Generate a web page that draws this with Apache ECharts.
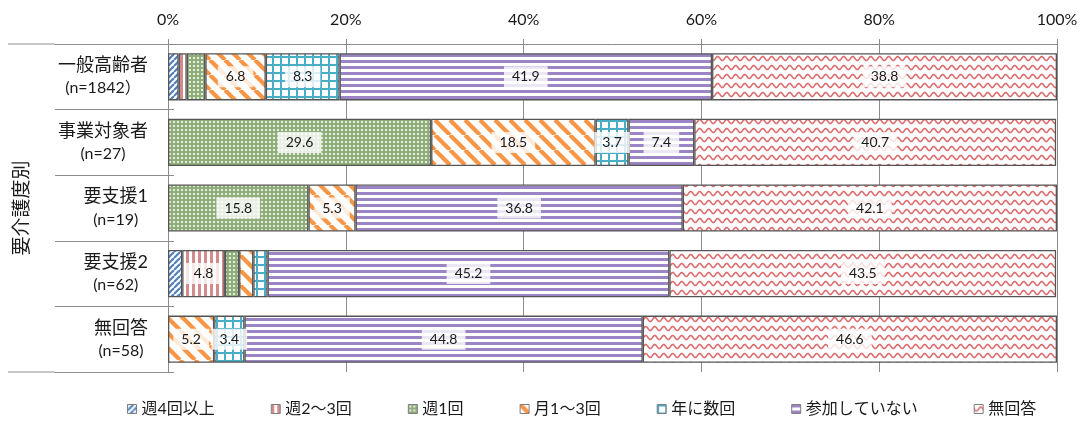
<!DOCTYPE html>
<html>
<head>
<meta charset="utf-8">
<script src="https://cdn.jsdelivr.net/npm/echarts@6/dist/echarts.min.js"></script>
<style>
  html, body { margin: 0; padding: 0; background: #fff; }
  #chart { width: 1083px; height: 421px; }
</style>
</head>
<body>
<div id="chart"></div>
<script>
// 要介護度別の参加頻度（%）
const categories = ['一般高齢者', '事業対象者', '要支援1', '要支援2', '無回答'];
const sampleSizes = ['(n=1842）', '(n=27)', '(n=19)', '(n=62)', '(n=58)'];
const seriesNames = ['週4回以上', '週2～3回', '週1回', '月1～3回', '年に数回', '参加していない', '無回答'];

const weekly4Plus   = [1.2, 0, 0, 1.6, 0];
const weekly2to3    = [0.9, 0, 0, 4.8, 0];
const weekly1       = [2.1, 29.6, 15.8, 1.6, 0];
const monthly1to3   = [6.8, 18.5, 5.3, 1.6, 5.2];
const fewPerYear    = [8.3, 3.7, 0, 1.6, 3.4];
const notJoining    = [41.9, 7.4, 36.8, 45.2, 44.8];
const noAnswer      = [38.8, 40.7, 42.1, 43.5, 46.6];

const valueTicks = { min: 0, max: 100, interval: 20 };
const labelThreshold = 3;

const FONT = 'Lato, "Noto Sans CJK JP", sans-serif';
const TEXT = '#1a1a1a';
const GRAY = '#8c8c8c';

// hatch fills, drawn once on small tiles and repeated
function tile(w, h, draw) {
  const c = document.createElement('canvas');
  c.width = w; c.height = h;
  const g = c.getContext('2d');
  g.fillStyle = '#ffffff';
  g.fillRect(0, 0, w, h);
  draw(g, w, h);
  return { image: c, repeat: 'repeat' };
}

const fills = [
  // upward diagonal, blue
  tile(6, 6, (g, w, h) => {
    g.strokeStyle = '#4f81bd'; g.lineWidth = 2.2;
    for (let k = -w; k <= w; k += w) { g.beginPath(); g.moveTo(k, h); g.lineTo(k + w, 0); g.stroke(); }
  }),
  // vertical stripes, red
  tile(6, 1, (g) => { g.fillStyle = '#d48b8b'; g.fillRect(0, 0, 3, 1); }),
  // dotted green
  tile(4, 4, (g) => {
    g.fillStyle = '#8fae7b'; g.fillRect(0, 0, 4, 4);
    g.fillStyle = '#e4eedb'; g.fillRect(1, 1, 2, 2);
  }),
  // wide downward diagonal, orange
  tile(15, 15, (g, w, h) => {
    g.strokeStyle = '#f79646'; g.lineWidth = 4.2;
    for (let k = -w; k <= w; k += w) { g.beginPath(); g.moveTo(k, 0); g.lineTo(k + w, h); g.stroke(); }
  }),
  // grid, cyan
  tile(8, 8, (g) => {
    g.fillStyle = '#4bacc6'; g.fillRect(0, 0, 8, 2); g.fillRect(0, 0, 2, 8);
  }),
  // horizontal stripes, purple
  tile(1, 6, (g) => { g.fillStyle = '#9b85c4'; g.fillRect(0, 0, 1, 3); }),
  // waves, red
  tile(9, 9, (g, w, h) => {
    g.strokeStyle = '#dc6d6f'; g.lineWidth = 1.6;
    g.beginPath();
    for (let x = -1; x <= w + 1; x += 0.5) {
      const y = h / 2 + 2 * Math.sin(2 * Math.PI * x / w);
      if (x === -1) g.moveTo(x, y); else g.lineTo(x, y);
    }
    g.stroke();
  })
];

const seriesValues = [weekly4Plus, weekly2to3, weekly1, monthly1to3, fewPerYear, notJoining, noAnswer];

const series = seriesNames.map((name, i) => ({
  name: name,
  type: 'bar',
  stack: 'total',
  barWidth: '72%',
  yAxisIndex: 0,
  itemStyle: { color: fills[i], borderColor: '#555555', borderWidth: 1.3 },
  label: {
    show: true,
    position: 'inside',
    fontFamily: FONT,
    fontSize: 14,
    color: TEXT,
    backgroundColor: 'rgba(255,255,255,0.8)',
    padding: [4, 8, 3, 8],
    formatter: p => Number(p.value).toFixed(1)
  },
  emphasis: { disabled: true },
  data: seriesValues[i].map(v => v === 0 ? '-' : (v >= labelThreshold ? v : { value: v, label: { show: false } }))
}));

const chart = echarts.init(document.getElementById('chart'), null, { renderer: 'canvas' });

chart.setOption({
  animation: false,
  backgroundColor: '#ffffff',
  textStyle: { fontFamily: FONT, color: TEXT },
  grid: { left: 168, right: 26, top: 44, bottom: 49 },
  legend: {
    data: seriesNames,
    left: 127,
    top: 401,
    padding: 0,
    icon: 'rect',
    itemWidth: 9,
    itemHeight: 9,
    itemGap: 56,
    selectedMode: false,
    itemStyle: { borderColor: '#7f7f7f', borderWidth: 1 },
    textStyle: { fontFamily: FONT, fontSize: 16, color: TEXT }
  },
  xAxis: {
    type: 'value',
    position: 'top',
    min: valueTicks.min,
    max: valueTicks.max,
    interval: valueTicks.interval,
    axisLine: { show: true, lineStyle: { color: GRAY, width: 1 } },
    axisTick: { show: true, length: 5, lineStyle: { color: GRAY } },
    axisLabel: { formatter: '{value}%', fontFamily: FONT, fontSize: 16, color: TEXT, margin: 16 },
    splitLine: { show: true, lineStyle: { color: GRAY, width: 1 } }
  },
  yAxis: [
    {
      type: 'category',
      data: categories,
      inverse: true,
      name: '要介護度別',
      nameLocation: 'middle',
      nameGap: 137,
      nameTextStyle: { fontFamily: FONT, fontSize: 19, color: TEXT },
      axisLine: { show: true, lineStyle: { color: GRAY, width: 1 } },
      axisTick: { show: true, length: 113, lineStyle: { color: GRAY } },
      axisLabel: {
        margin: 20,
        formatter: (v, i) => '{a|' + v + '}\n{b|' + sampleSizes[i] + '}',
        rich: {
          a: { fontFamily: FONT, fontSize: 18, color: TEXT, align: 'center', lineHeight: 23 },
          b: { fontFamily: FONT, fontSize: 16, color: TEXT, align: 'center', lineHeight: 23 }
        }
      }
    },
    {
      type: 'category',
      data: categories,
      inverse: true,
      position: 'left',
      axisLine: { show: false },
      axisLabel: { show: false },
      axisTick: { show: true, inside: true, length: 6, lineStyle: { color: GRAY } }
    }
  ],
  series: series
});

// outer bracket lines of the category table, extended from the grid edges
const rect = chart.getModel().getComponent('grid', 0).coordinateSystem.getRect();
const outerLeft = 8;
const innerLeft = rect.x - 113;
chart.setOption({
  graphic: [rect.y, rect.y + rect.height].map(y => ({
    type: 'line',
    shape: { x1: outerLeft, y1: y, x2: innerLeft, y2: y },
    style: { stroke: GRAY, lineWidth: 1 },
    silent: true
  }))
});
</script>
</body>
</html>
